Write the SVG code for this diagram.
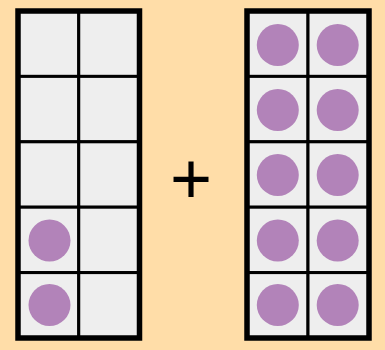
<svg xmlns="http://www.w3.org/2000/svg" width="385" height="350" viewBox="0 0 385 350">
<style>
.cell{fill:#eeeeee;stroke:#000;stroke-width:3}
.frame{fill:none;stroke:#000;stroke-width:5.5}
.dot{fill:#b283b9}
.sign{font-family:"Liberation Sans",Arial,sans-serif;font-size:72px;fill:#000;text-anchor:middle}
</style>
<rect width="385" height="350" fill="#ffdda8"/>
<g id="frame-left">
<rect class="cell" x="18" y="11" width="60.75" height="65.4"/>
<rect class="cell" x="78.75" y="11" width="60.75" height="65.4"/>
<rect class="cell" x="18" y="76.4" width="60.75" height="65.4"/>
<rect class="cell" x="78.75" y="76.4" width="60.75" height="65.4"/>
<rect class="cell" x="18" y="141.8" width="60.75" height="65.4"/>
<rect class="cell" x="78.75" y="141.8" width="60.75" height="65.4"/>
<rect class="cell" x="18" y="207.2" width="60.75" height="65.4"/>
<rect class="cell" x="78.75" y="207.2" width="60.75" height="65.4"/>
<rect class="cell" x="18" y="272.6" width="60.75" height="65.4"/>
<rect class="cell" x="78.75" y="272.6" width="60.75" height="65.4"/>
<rect class="frame" x="18" y="11" width="121.5" height="327"/>
<circle class="dot" cx="49.5" cy="240.5" r="21"/>
<circle class="dot" cx="49.5" cy="305" r="21"/>
</g>
<g id="plus">
<text class="sign" x="191" y="203">+</text>
</g>
<g id="frame-right">
<rect class="cell" x="247" y="11" width="61" height="65.4"/>
<rect class="cell" x="308" y="11" width="61" height="65.4"/>
<rect class="cell" x="247" y="76.4" width="61" height="65.4"/>
<rect class="cell" x="308" y="76.4" width="61" height="65.4"/>
<rect class="cell" x="247" y="141.8" width="61" height="65.4"/>
<rect class="cell" x="308" y="141.8" width="61" height="65.4"/>
<rect class="cell" x="247" y="207.2" width="61" height="65.4"/>
<rect class="cell" x="308" y="207.2" width="61" height="65.4"/>
<rect class="cell" x="247" y="272.6" width="61" height="65.4"/>
<rect class="cell" x="308" y="272.6" width="61" height="65.4"/>
<rect class="frame" x="247" y="11" width="122" height="327"/>
<circle class="dot" cx="277.8" cy="45" r="21"/>
<circle class="dot" cx="337.7" cy="45" r="21"/>
<circle class="dot" cx="277.8" cy="110" r="21"/>
<circle class="dot" cx="337.7" cy="110" r="21"/>
<circle class="dot" cx="277.8" cy="175" r="21"/>
<circle class="dot" cx="337.7" cy="175" r="21"/>
<circle class="dot" cx="277.8" cy="240.5" r="21"/>
<circle class="dot" cx="337.7" cy="240.5" r="21"/>
<circle class="dot" cx="277.8" cy="305" r="21"/>
<circle class="dot" cx="337.7" cy="305" r="21"/>
</g>
</svg>
